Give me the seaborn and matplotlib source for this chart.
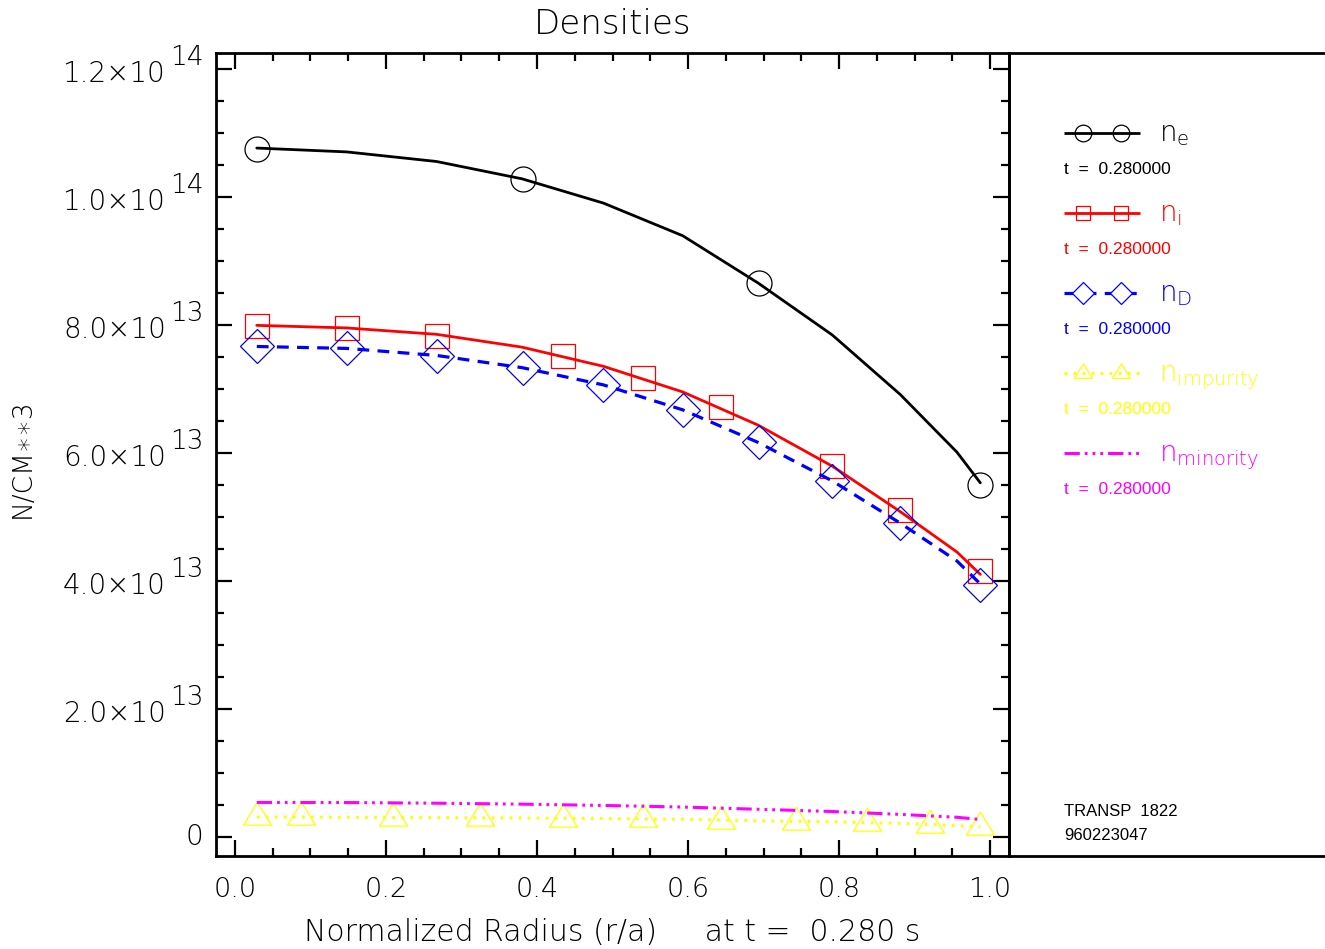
import numpy as np
import matplotlib
matplotlib.use("Agg")
import matplotlib.pyplot as plt
from matplotlib.path import Path
from matplotlib.ticker import MultipleLocator, NullFormatter, FuncFormatter
import matplotlib.transforms as mtransforms
import seaborn as sns

# ---- profile data (normalized radius grid) ----
rho = [0.029, 0.148, 0.267, 0.380, 0.488, 0.593, 0.693, 0.791, 0.881, 0.956, 0.987]
n_e = [1.077e14, 1.071e14, 1.056e14, 1.029e14, 9.91e13, 9.40e13, 8.66e13,
       7.85e13, 6.92e13, 6.02e13, 5.54e13]
n_i = [8.00e13, 7.96e13, 7.86e13, 7.66e13, 7.36e13, 6.96e13, 6.44e13,
       5.80e13, 5.09e13, 4.46e13, 4.11e13]
n_D = [7.67e13, 7.64e13, 7.53e13, 7.34e13, 7.07e13, 6.68e13, 6.17e13,
       5.57e13, 4.91e13, 4.32e13, 3.96e13]
n_imp = [3.20e12, 3.15e12, 3.10e12, 3.05e12, 2.95e12, 2.85e12, 2.60e12,
         2.45e12, 2.20e12, 1.85e12, 1.65e12]
n_min = [5.47e12, 5.45e12, 5.35e12, 5.20e12, 5.00e12, 4.75e12, 4.40e12,
         4.05e12, 3.60e12, 3.15e12, 2.80e12]

# ---- symbol sample points ----
ne_sym_r = [0.029, 0.381, 0.694, 0.986]
ne_sym = [1.076e14, 1.029e14, 8.66e13, 5.50e13]
ni_sym_r = [0.029, 0.149, 0.268, 0.434, 0.541, 0.644, 0.791, 0.881, 0.986]
ni_sym = [7.99e13, 7.96e13, 7.84e13, 7.52e13, 7.18e13, 6.72e13, 5.80e13, 5.11e13, 4.16e13]
nD_sym_r = [0.029, 0.148, 0.267, 0.381, 0.487, 0.593, 0.694, 0.791, 0.881, 0.986]
nD_sym = [7.67e13, 7.64e13, 7.525e13, 7.34e13, 7.07e13, 6.68e13, 6.17e13, 5.57e13, 4.91e13, 3.94e13]
imp_sym_r = [0.029, 0.088, 0.209, 0.324, 0.435, 0.541, 0.644, 0.743, 0.837, 0.921, 0.986]
imp_sym = [3.16e12, 3.16e12, 3.05e12, 3.00e12, 2.89e12, 2.89e12, 2.63e12, 2.38e12,
           2.22e12, 1.95e12, 1.69e12]

series_labels = ["e", "i", "D", "impurity", "minority"]
series_colors = ["black", "#ff0000", "#0000ff", "#ffff00", "#ff00ff"]
time_label = "t  =  0.280000"
run_lines = ["TRANSP  1822", "960223047"]
title = "Densities"
xlabel = "Normalized Radius (r/a)     at t =  0.280 s"
ylabel = "N/CM\u2217\u22173"

sns.set_theme(style="ticks")
FONT = "DejaVu Sans"
WEIGHT = 200
TXT = "black"
plt.rcParams["font.family"] = [FONT]
plt.rcParams["font.weight"] = WEIGHT
plt.rcParams["mathtext.fontset"] = "custom"
plt.rcParams["mathtext.rm"] = FONT + ":weight=200"
plt.rcParams["mathtext.it"] = FONT + ":weight=200"
plt.rcParams["lines.scale_dashes"] = False
SMALL = dict(family=["Liberation Sans", "DejaVu Sans"], fontweight="normal")

# triangle with its centroid on the data point
tri = Path([(-1.0, -0.547), (1.0, -0.547), (0.0, 1.093), (-1.0, -0.547)],
           [Path.MOVETO, Path.LINETO, Path.LINETO, Path.CLOSEPOLY])

styles = [
    dict(ls="-", lw=2.0),
    dict(ls="-", lw=2.0),
    dict(ls=(0, (8.5, 6.0)), lw=2.3),
    dict(ls=(0, (2.0, 4.5)), lw=2.2),
    dict(ls=(0, (11, 3.6, 2.0, 3.6, 2.0, 3.6, 2.0, 3.6)), lw=2.2),
]
symbols = ["o", "s", "D", tri, None]
sym_sizes = [18, 17, 17, 22, None]
leg_sym_sizes = [12, 10, 11.4, 14, None]

W, H = 1325, 949
fig = plt.figure(figsize=(W / 100, H / 100), dpi=100)
ax_l, ax_r, ax_t, ax_b = 216, 1009, 53, 856
ax = fig.add_axes([ax_l / W, 1 - ax_b / H, (ax_r - ax_l) / W, (ax_b - ax_t) / H])

profiles = [n_e, n_i, n_D, n_imp, n_min]
sym_data = [(ne_sym_r, ne_sym), (ni_sym_r, ni_sym), (nD_sym_r, nD_sym),
            (imp_sym_r, imp_sym), None]

for prof, col, st, sym, ms, sd in zip(profiles, series_colors, styles, symbols,
                                      sym_sizes, sym_data):
    sns.lineplot(x=rho, y=prof, color=col, linestyle=st["ls"], lw=st["lw"],
                 estimator=None, ax=ax)
    if sd is not None:
        sns.lineplot(x=sd[0], y=sd[1], color=col, linestyle="none", marker=sym,
                     markersize=ms, mfc="none", mec=col, mew=0.9,
                     estimator=None, ax=ax)

ax.set_xlim(-0.025, 1.025)
ax.set_ylim(-2.9e12, 1.2255e14)
ax.xaxis.set_major_locator(MultipleLocator(0.2))
ax.xaxis.set_minor_locator(MultipleLocator(0.05))
ax.yaxis.set_major_locator(MultipleLocator(2e13))
ax.yaxis.set_minor_locator(MultipleLocator(5e12))
ax.yaxis.set_major_formatter(NullFormatter())
ax.xaxis.set_major_formatter(FuncFormatter(lambda v, p: "%.1f" % v))
ax.tick_params(which="both", direction="in", top=True, right=True,
               width=1.6, colors="black", labelcolor=TXT)
ax.tick_params(which="major", length=11.5)
ax.tick_params(which="minor", length=5.5)
ax.tick_params(axis="x", labelsize=19.5, pad=15)
for sp in ax.spines.values():
    sp.set_linewidth(2.0)
    sp.set_color("black")
ax.set_facecolor("white")

# y tick labels written as mantissa x 10 with a full-size raised exponent
px = 1 / 72 * 100  # pixels per point
ylo, yhi = ax.get_ylim()
for v in ax.get_yticks():
    if v < ylo or v > yhi:
        continue
    if abs(v) < 1:
        tr = mtransforms.offset_copy(ax.get_yaxis_transform(), fig=fig,
                                     x=-13 / px, y=0, units="points")
        ax.text(0, v, "0", transform=tr, ha="right", va="center",
                fontsize=20, color=TXT)
        continue
    exp = int(np.floor(np.log10(abs(v)) + 1e-9))
    mant = v / 10 ** exp
    tr_b = mtransforms.offset_copy(ax.get_yaxis_transform(), fig=fig,
                                   x=-50 / px, y=-13 / px, units="points")
    tr_e = mtransforms.offset_copy(ax.get_yaxis_transform(), fig=fig,
                                   x=-12 / px, y=4 / px, units="points")
    ax.text(0, v, "%.1f\u00d710" % mant, transform=tr_b, ha="right",
            va="baseline", fontsize=20, color=TXT)
    ax.text(0, v, "%d" % exp, transform=tr_e, ha="right", va="baseline",
            fontsize=19, color=TXT)

ax.text(0.5, 1 + (ax_t - 24) / (ax_b - ax_t), title, transform=ax.transAxes,
        ha="center", va="center", fontsize=24.5, color=TXT)
ax.set_xlabel(xlabel, fontsize=21.5, color=TXT, fontweight=WEIGHT)
ax.xaxis.set_label_coords(0.5, -(941 - ax_b) / (ax_b - ax_t))
ax.xaxis.label.set_va("baseline")
ax.set_ylabel(ylabel, fontsize=19, color=TXT, va="center", fontweight=WEIGHT)
ax.yaxis.set_label_coords((22 - ax_l) / (ax_r - ax_l), 1 - (458 - ax_t) / (ax_b - ax_t))

# ---- key panel on the right ----
lax = fig.add_axes([ax_r / W, 1 - ax_b / H, (W - ax_r) / W + 0.02, (ax_b - ax_t) / H])
lax.set_xlim(0, W - ax_r + 26)
lax.set_ylim(ax_b - ax_t, 0)
lax.set_xticks([])
lax.set_yticks([])
lax.spines["right"].set_visible(False)
for s in ("left", "top", "bottom"):
    lax.spines[s].set_linewidth(2.0)
    lax.spines[s].set_color("black")
lax.patch.set_alpha(0)

row0, row_step = 80, 80
x0, x1 = 55, 131
sym_x = [74, 112]
for i, (lab, col, st, sym, lms) in enumerate(zip(series_labels, series_colors, styles,
                                                  symbols, leg_sym_sizes)):
    yy = row0 + i * row_step
    lax.plot([x0, x1], [yy, yy], color=col, linestyle=st["ls"], lw=st["lw"],
             solid_capstyle="butt", dash_capstyle="butt")
    if sym is not None:
        lax.plot(sym_x, [yy, yy], linestyle="none", marker=sym, markersize=lms,
                 mfc="white" if i == 2 else "none", mec=col, mew=0.9)
    lax.text(150, yy + 8, r"$\mathregular{n_{%s}}$" % lab, color=col, fontsize=20,
             ha="left", va="baseline")
    lax.text(x0, yy + 36, time_label, color=col, fontsize=12.5, ha="left",
             va="center", **SMALL)

for j, line in enumerate(run_lines):
    lax.text(x0, 758 + j * 24, line, color="black", fontsize=12, ha="left",
             va="center", **SMALL)

fig.savefig("out.png", dpi=100, facecolor="white")
